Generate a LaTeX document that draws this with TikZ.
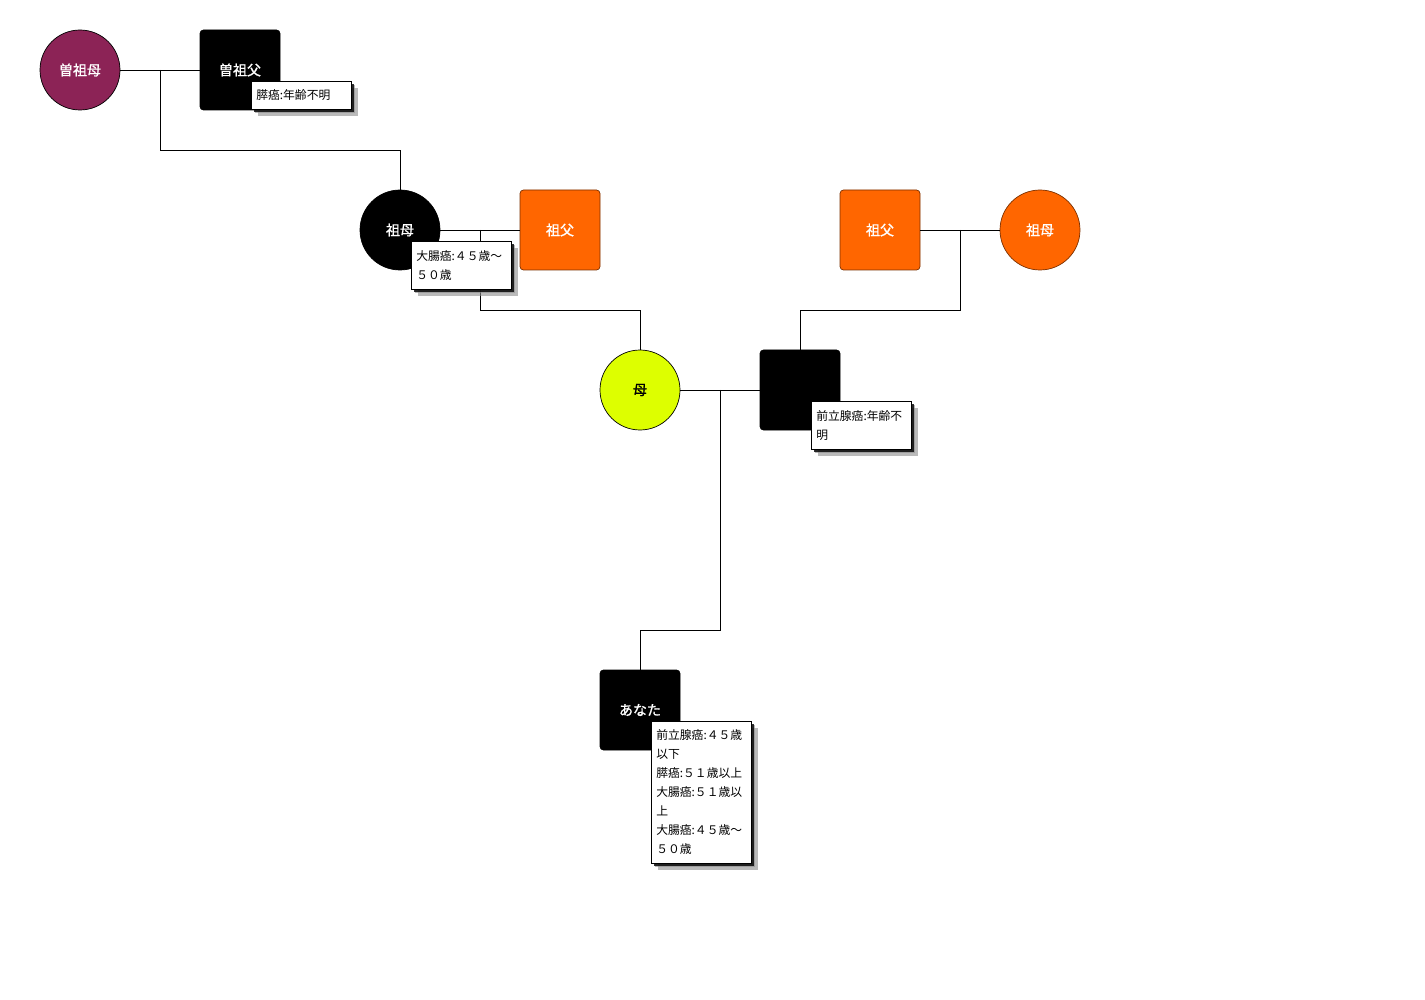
\documentclass[tikz,border=0pt]{standalone}
\usepackage{fontspec}
\usetikzlibrary{shadows}
\newfontfamily\jpfont{Noto Sans CJK JP}
\newfontfamily\jpbold[FakeBold=1.2]{Noto Sans CJK JP}
\definecolor{plum}{HTML}{8C2356}
\definecolor{tangerine}{HTML}{FF6600}
\definecolor{tangerinedark}{HTML}{7A3000}
\definecolor{lime}{HTML}{DDFF00}
\tikzset{
  person/.style={minimum size=80pt, inner sep=0pt, font=\jpbold\fontsize{14}{16}\selectfont, text=white, draw=black, line width=0.7pt},
  male/.style={person, rectangle, rounded corners=3.5pt},
  female/.style={person, circle},
  affected/.style={fill=black},
  note/.style={draw=black, line width=0.6pt, fill=white, anchor=north west, text width=90pt, inner xsep=5pt, inner ysep=0pt, align=left,
    font=\jpfont\fontsize{11.8}{19}\selectfont,
    double copy shadow={shadow xshift=3.5pt, shadow yshift=-3.5pt, fill=black!45, draw=none, opacity=0.6},
    drop shadow={shadow xshift=2.5pt, shadow yshift=-2.5pt, fill=black, opacity=0.8}},
  link/.style={draw=black, line width=0.8pt}
}
\begin{document}
\begin{tikzpicture}[x=1pt, y=-1pt]
\useasboundingbox (0,0) rectangle (1425,1000);

% great-grandparents
\node[female, fill=plum] (ggm) at (80,70) {曽祖母};
\node[male, affected] (ggf) at (240,70) {曽祖父};

% maternal grandparents
\node[female, affected] (mgm) at (400,230) {祖母};
\node[male, fill=tangerine, draw=tangerinedark] (mgf) at (560,230) {祖父};

% paternal grandparents
\node[male, fill=tangerine, draw=tangerinedark] (pgf) at (880,230) {祖父};
\node[female, fill=tangerine, draw=tangerinedark] (pgm) at (1040,230) {祖母};

% parents
\node[female, fill=lime, text=black] (mo) at (640,390) {母};
\node[male, affected] (fa) at (800,390) {};

% proband
\node[male, affected] (you) at (640,710) {あなた};

% couple lines and descent lines
\coordinate (c1) at (160,70);
\coordinate (c2) at (480,230);
\coordinate (c3) at (960,230);
\coordinate (c4) at (720,390);

\draw[link] (ggm.east) -- (ggf.west);
\draw[link] (c1) -- ++(0,80) -| (mgm.north);

\draw[link] (mgm.east) -- (mgf.west);
\draw[link] (c2) -- ++(0,80) -| (mo.north);

\draw[link] (pgf.east) -- (pgm.west);
\draw[link] (c3) -- ++(0,80) -| (fa.north);

\draw[link] (mo.east) -- (fa.west);
\draw[link] (c4) -- ++(0,240) -| (you.north);

% diagnosis notes, drawn over the lines
\node[note, minimum height=28pt] (nggf) at (251,81) {膵癌:年齢不明};
\node[note, minimum height=48pt] (nmgm) at (411,241) {大腸癌:４５歳〜\\５０歳};
\node[note, minimum height=48pt] (nfa) at (811,401) {前立腺癌:年齢不\\明};
\node[note, minimum height=142pt] (nyou) at (651,721) {前立腺癌:４５歳\\以下\\膵癌:５１歳以上\\大腸癌:５１歳以\\上\\大腸癌:４５歳〜\\５０歳};
\end{tikzpicture}
\end{document}
